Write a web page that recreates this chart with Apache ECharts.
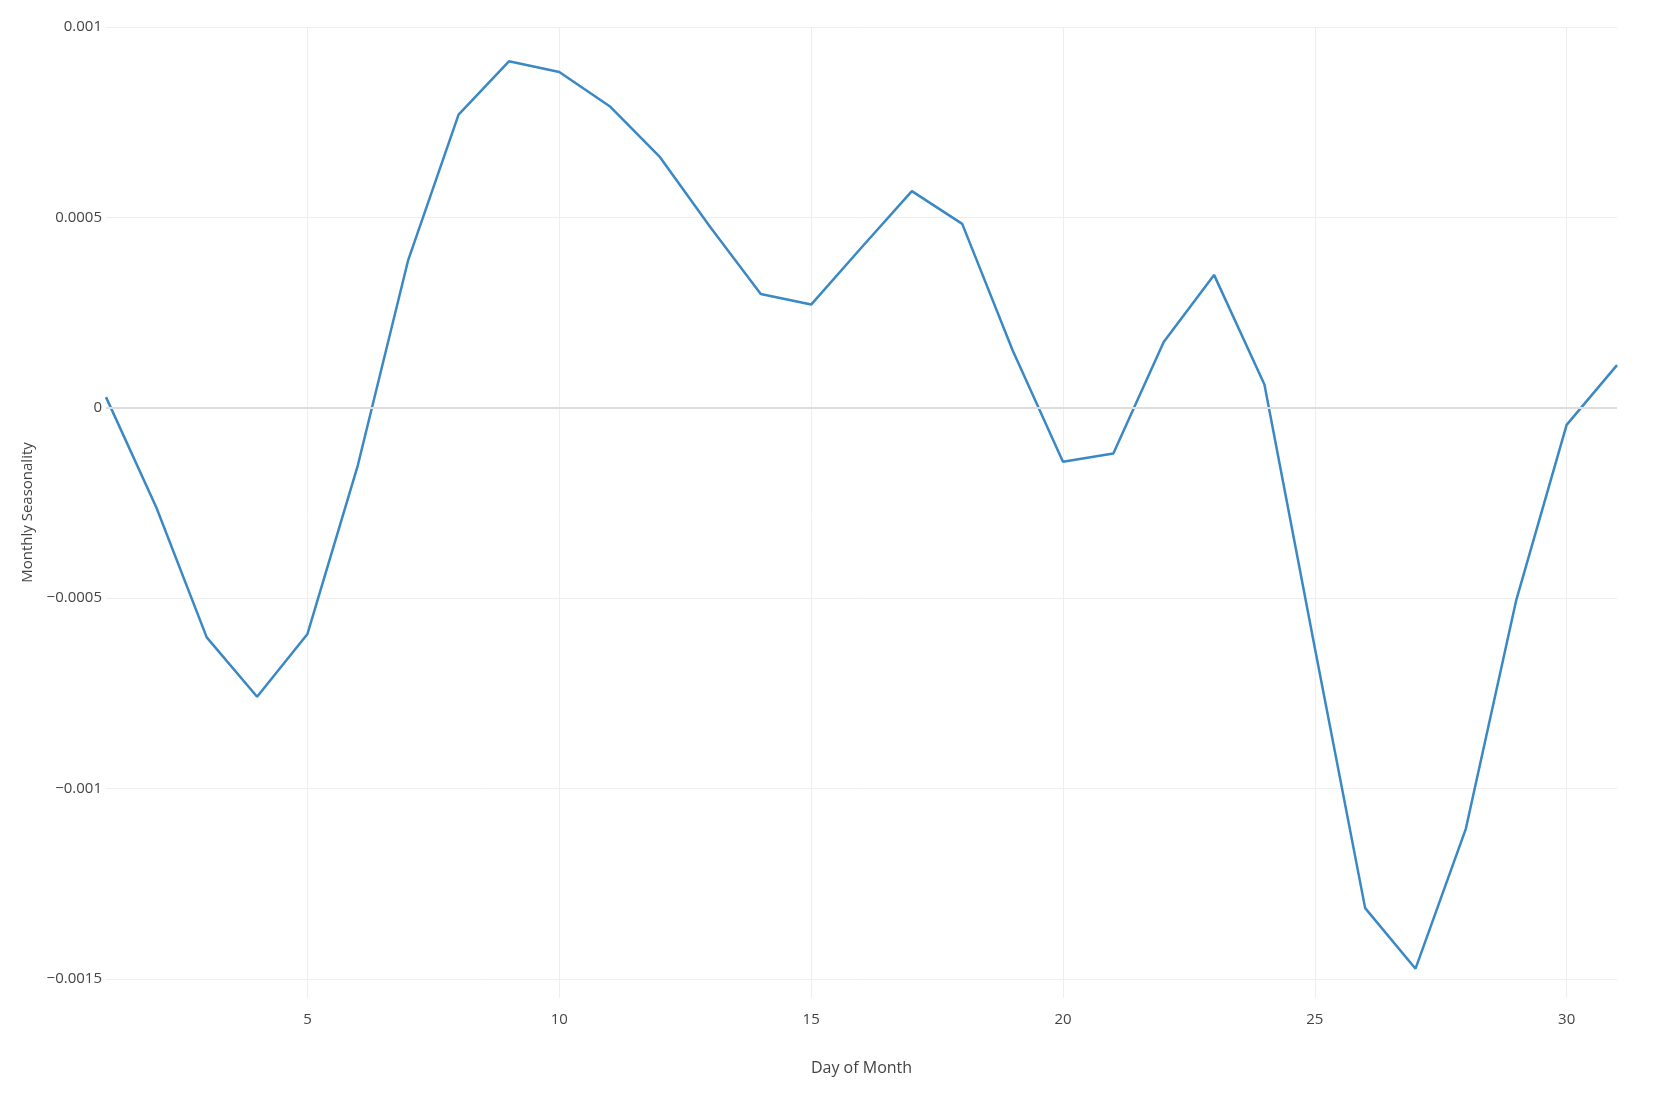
<!DOCTYPE html>
<html>
<head>
	<meta charset="UTF-8">
	<title>Monthly Seasonality</title>
	<script src="https://cdn.jsdelivr.net/npm/echarts@6/dist/echarts.min.js"></script>
	<style>
		html, body { margin: 0; padding: 0; background: #fff; }
		#chart { width: 1667px; height: 1099px; }
	</style>
</head>
<body>
	<div id="chart"></div>
	<script>
		// day of month
		var days = [1,2,3,4,5,6,7,8,9,10,11,12,13,14,15,16,17,18,19,20,21,22,23,24,25,26,27,28,29,30,31];
		// seasonality values
		var seasonality = [
			0.000028, -0.000262, -0.000603, -0.000759, -0.000594, -0.000151, 0.000388, 0.00077,
			0.00091, 0.000882, 0.000792, 0.000658, 0.000474, 0.000299, 0.000271, 0.000421,
			0.000569, 0.000483, 0.000151, -0.000142, -0.00012, 0.000173, 0.000349, 0.000061,
			-0.00063, -0.001314, -0.001473, -0.001105, -0.000505, -0.000045, 0.000112
		];
		var xTicks = [5, 10, 15, 20, 25, 30];
		var yTicks = [-0.0015, -0.001, -0.0005, 0, 0.0005, 0.001];

		var points = days.map(function(d, i) { return [d, seasonality[i]]; });

		var myChart = echarts.init(document.getElementById('chart'));
		var font = 'Open Sans, Arial, sans-serif';
		var labelStyle = { color: '#444', fontSize: 15, fontFamily: font };
		var option = {
			animation: false,
			grid: { left: 106, right: 50, top: 27, bottom: 101, containLabel: false },
			xAxis: {
				type: 'value',
				min: 1,
				max: 31,
				name: 'Day of Month',
				nameLocation: 'middle',
				nameGap: 62,
				nameTextStyle: { color: '#444', fontSize: 16, fontFamily: font },
				axisLine: { show: false },
				axisTick: { show: false, customValues: xTicks },
				axisLabel: Object.assign({ customValues: xTicks, margin: 14 }, labelStyle),
				splitLine: { show: true, lineStyle: { color: '#eeeeee', width: 1 } }
			},
			yAxis: {
				type: 'value',
				min: -0.00155,
				max: 0.001,
				name: 'Monthly Seasonality',
				nameLocation: 'middle',
				nameGap: 66,
				nameRotate: 90,
				nameTextStyle: { color: '#444', fontSize: 15, fontFamily: font },
				axisLine: { show: false },
				axisTick: { show: false, customValues: yTicks },
				axisLabel: Object.assign({
					customValues: yTicks,
					margin: 4,
					formatter: function(v) {
						if (v === 0) return '0';
						return (v < 0 ? '\u2212' : '') + String(Math.abs(v));
					}
				}, labelStyle),
				splitLine: { show: true, lineStyle: { color: '#eeeeee', width: 1 } }
			},
			series: [{
				type: 'line',
				data: points,
				showSymbol: false,
				symbol: 'none',
				lineStyle: { color: '#3a88c4', width: 2.5 },
				markLine: {
					silent: true,
					symbol: 'none',
					label: { show: false },
					lineStyle: { color: '#dddddd', width: 2, type: 'solid' },
					data: [{ yAxis: 0 }]
				},
				z: 3
			}]
		};
		myChart.setOption(option);
	</script>
</body>
</html>
